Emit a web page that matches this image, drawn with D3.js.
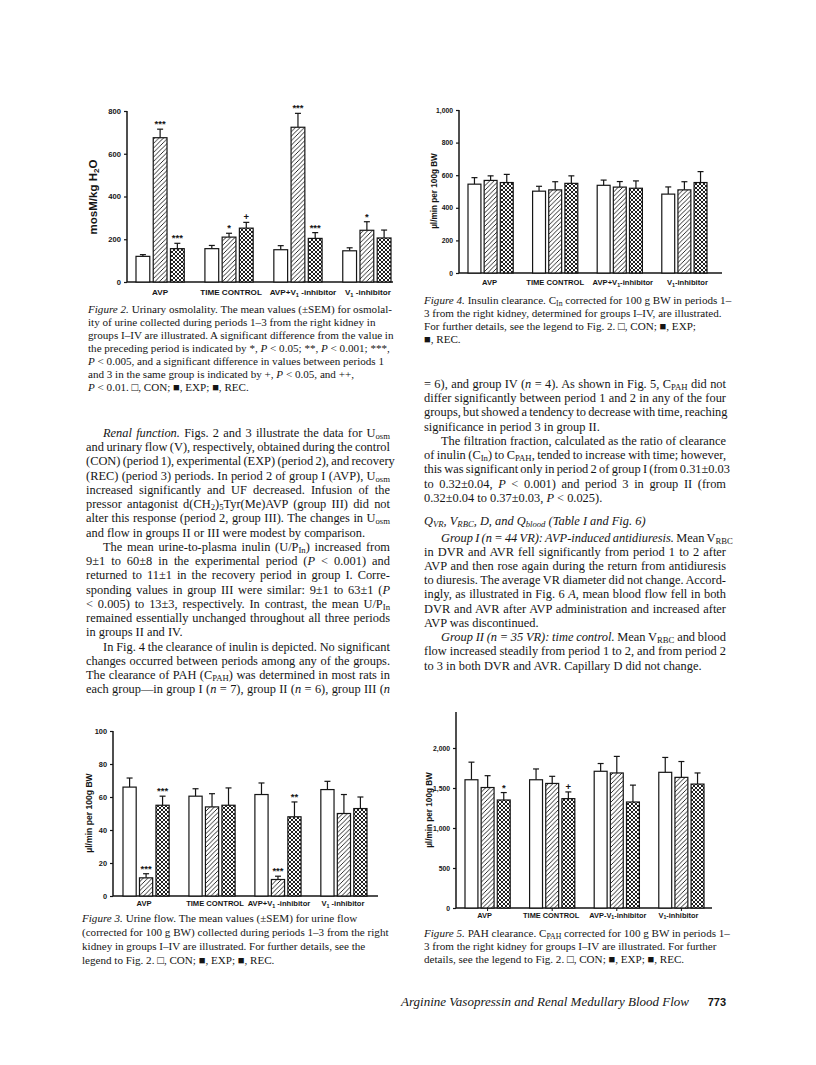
<!DOCTYPE html>
<html>
<head>
<meta charset="utf-8">
<script src="https://cdn.jsdelivr.net/npm/d3@7"></script>
<style>
  html, body { margin: 0; padding: 0; background: #fff; }
  svg { display: block; }
  .serif { font-family: "Liberation Serif", "Times New Roman", serif; fill: #151515; }
  .sans { font-family: "Liberation Sans", Arial, sans-serif; font-weight: bold; fill: #151515; }
</style>
</head>
<body>
<svg id="page" width="816" height="1065"></svg>
<script>
// ---- data ----
var periods = ["CON", "EXP", "REC"];
var groupLabels = ["AVP", "TIME CONTROL", "AVP+V_{1} -inhibitor", "V_{1} -inhibitor"];
var groupLabels4 = ["AVP", "TIME CONTROL", "AVP+V_{1}-inhibitor", "V_{1}-inhibitor"];
var groupLabels5 = ["AVP", "TIME CONTROL", "AVP-V_{1}-inhibitor", "V_{1}-inhibitor"];

// Figure 2: urinary osmolality (mosM/kg H2O)
var osmMean = [[120, 675, 156], [156, 210, 252], [151, 724, 204], [146, 242, 206]];
var osmSem = [[8, 40, 25], [15, 18, 27], [19, 65, 27], [14, 40, 37]];
var osmSig = [["", "***", "***"], ["", "*", "+"], ["", "***", "***"], ["", "*", ""]];
var osmTicks = [0, 200, 400, 600, 800];

// Figure 3: urine flow (ul/min per 100 g BW)
var flowMean = [[66, 11, 55], [60.5, 54, 55], [61.5, 10, 48], [64.5, 50, 53]];
var flowSem = [[5.5, 2.5, 5.5], [4.5, 8, 10.5], [7, 2, 9], [5, 11.5, 7]];
var flowSig = [["", "***", "***"], ["", "", ""], ["", "***", "**"], ["", "", ""]];
var flowTicks = [0, 20, 40, 60, 80, 100];

// Figure 4: inulin clearance
var cinMean = [[545, 568, 555], [502, 510, 550], [538, 527, 520], [484, 510, 555]];
var cinSem = [[40, 28, 50], [30, 50, 46], [32, 34, 45], [44, 50, 67]];
var cinSig = [["", "", ""], ["", "", ""], ["", "", ""], ["", "", ""]];
var cinTicks = [0, 200, 400, 600, 800, 1000];

// Figure 5: PAH clearance
var cpahMean = [[1603, 1506, 1350], [1603, 1557, 1367], [1709, 1688, 1325], [1696, 1633, 1549]];
var cpahSem = [[220, 148, 93], [135, 89, 84], [97, 207, 211], [186, 198, 139]];
var cpahSig = [["", "", "*"], ["", "", "+"], ["", "", ""], ["", "", ""]];
var cpahTicks = [0, 500, 1000, 1500, 2000];

// ---- text of the page ----
var cap2 = [
  "/{Figure 2.} Urinary osmolality. The mean values (±SEM) for osmolal-",
  "ity of urine collected during periods 1–3 from the right kidney in",
  "groups I–IV are illustrated. A significant difference from the value in",
  "the preceding period is indicated by *, /{P} < 0.05; **, /{P} < 0.001; ***,",
  "/{P} < 0.005, and a significant difference in values between periods 1",
  "and 3 in the same group is indicated by +, /{P} < 0.05, and ++,",
  "/{P} < 0.01. □, CON; ■, EXP; ■, REC."
];
var cap3 = [
  "/{Figure 3.} Urine flow. The mean values (±SEM) for urine flow",
  "(corrected for 100 g BW) collected during periods 1–3 from the right",
  "kidney in groups I–IV are illustrated. For further details, see the",
  "legend to Fig. 2. □, CON; ■, EXP; ■, REC."
];
var cap4 = [
  "/{Figure 4.} Insulin clearance. C_{In} corrected for 100 g BW in periods 1–",
  "3 from the right kidney, determined for groups I–IV, are illustrated.",
  "For further details, see the legend to Fig. 2. □, CON; ■, EXP;",
  "■, REC."
];
var cap5 = [
  "/{Figure 5.} PAH clearance. C_{PAH} corrected for 100 g BW in periods 1–",
  "3 from the right kidney for groups I–IV are illustrated. For further",
  "details, see the legend to Fig. 2. □, CON; ■, EXP; ■, REC."
];

// ">" = indented first line, "|" at end = last line of a paragraph (not justified)
var leftText = [
  ">/{Renal function.} Figs. 2 and 3 illustrate the data for U_{osm}",
  "and urinary flow (V), respectively, obtained during the control",
  "(CON) (period 1), experimental (EXP) (period 2), and recovery",
  "(REC) (period 3) periods. In period 2 of group I (AVP), U_{osm}",
  "increased significantly and UF decreased. Infusion of the",
  "pressor antagonist d(CH_{2})_{5}Tyr(Me)AVP (group III) did not",
  "alter this response (period 2, group III). The changes in U_{osm}",
  "and flow in groups II or III were modest by comparison.|",
  ">The mean urine-to-plasma inulin (U/P_{In}) increased from",
  "9±1 to 60±8 in the experimental period (/{P} < 0.001) and",
  "returned to 11±1 in the recovery period in group I. Corre-",
  "sponding values in group III were similar: 9±1 to 63±1 (/{P}",
  "< 0.005) to 13±3, respectively. In contrast, the mean U/P_{In}",
  "remained essentially unchanged throughout all three periods",
  "in groups II and IV.|",
  ">In Fig. 4 the clearance of inulin is depicted. No significant",
  "changes occurred between periods among any of the groups.",
  "The clearance of PAH (C_{PAH}) was determined in most rats in",
  "each group—in group I (/{n} = 7), group II (/{n} = 6), group III (/{n}"
];
var rightText1 = [
  "= 6), and group IV (/{n} = 4). As shown in Fig. 5, C_{PAH} did not",
  "differ significantly between period 1 and 2 in any of the four",
  "groups, but showed a tendency to decrease with time, reaching",
  "significance in period 3 in group II.|",
  ">The filtration fraction, calculated as the ratio of clearance",
  "of inulin (C_{In}) to C_{PAH}, tended to increase with time; however,",
  "this was significant only in period 2 of group I (from 0.31±0.03",
  "to 0.32±0.04, /{P} < 0.001) and period 3 in group II (from",
  "0.32±0.04 to 0.37±0.03, /{P} < 0.025).|"
];
var heading = "Q_{VR}, V_{RBC}, D, and Q_{blood} (Table I and Fig. 6)";
var rightText2 = [
  ">/{Group I (n = 44 VR): AVP-induced antidiuresis.} Mean V_{RBC}",
  "in DVR and AVR fell significantly from period 1 to 2 after",
  "AVP and then rose again during the return from antidiuresis",
  "to diuresis. The average VR diameter did not change. Accord-",
  "ingly, as illustrated in Fig. 6 /{A}, mean blood flow fell in both",
  "DVR and AVR after AVP administration and increased after",
  "AVP was discontinued.|",
  ">/{Group II (n = 35 VR): time control.} Mean V_{RBC} and blood",
  "flow increased steadily from period 1 to 2, and from period 2",
  "to 3 in both DVR and AVR. Capillary D did not change.|"
];

var svg = d3.select("#page");

// hatch patterns for EXP and REC bars
var defs = svg.append("defs");
var hatch = defs.append("pattern").attr("id", "hatch")
  .attr("patternUnits", "userSpaceOnUse").attr("width", 4.5).attr("height", 4.5);
hatch.append("rect").attr("width", 4.5).attr("height", 4.5).attr("fill", "#fff");
hatch.append("path").attr("d", "M-1,1 L1,-1 M0,4.5 L4.5,0 M3.5,5.5 L5.5,3.5")
  .attr("stroke", "#151515").attr("stroke-width", 0.9);
var cross = defs.append("pattern").attr("id", "cross")
  .attr("patternUnits", "userSpaceOnUse").attr("width", 4).attr("height", 4);
cross.append("rect").attr("width", 4).attr("height", 4).attr("fill", "#fff");
cross.append("path").attr("d", "M-1,-1 L5,5 M-1,5 L5,-1")
  .attr("stroke", "#151515").attr("stroke-width", 0.95);
var fills = ["#fff", "url(#hatch)", "url(#cross)"];

// write a string with _{sub} and /{italic} markup into a text element
function rich(sel, str, size) {
  str.split(/(_\{[^}]*\}|\/\{[^}]*\})/).forEach(function (p) {
    if (!p) return;
    if (p.indexOf("_{") === 0) {
      sel.append("tspan").attr("baseline-shift", -size * 0.2)
        .attr("font-size", size * 0.7).text(p.slice(2, -1));
    } else if (p.indexOf("/{") === 0) {
      sel.append("tspan").attr("font-style", "italic").text(p.slice(2, -1));
    } else {
      sel.append("tspan").text(p);
    }
  });
}

// justified paragraph lines
function block(lines, x0, x1, y0, step, size, indent) {
  lines.forEach(function (raw, i) {
    var ind = raw.charAt(0) === ">";
    var last = raw.charAt(raw.length - 1) === "|";
    var s = raw.replace(/^>/, "").replace(/\|$/, "");
    var x = x0 + (ind ? indent : 0);
    var t = svg.append("text").attr("class", "serif")
      .attr("x", x).attr("y", y0 + i * step).attr("font-size", size);
    rich(t, s, size);
    if (!last) {
      var natural = t.node().getComputedTextLength();
      var spaces = s.split(" ").length - 1;
      if (spaces > 0) t.attr("word-spacing", Math.max(-0.8, ((x1 - x) - natural) / spaces));
    }
  });
}

// ragged caption lines
function caption(lines, x, y0, step) {
  lines.forEach(function (s, i) {
    var t = svg.append("text").attr("class", "serif")
      .attr("x", x).attr("y", y0 + i * step).attr("font-size", 11.1);
    rich(t, s, 11.1);
  });
}

function drawChart(cfg) {
  var g = svg.append("g");
  var x0 = d3.scaleBand().domain(d3.range(cfg.mean.length))
    .range([cfg.bx0, cfg.bx1]).paddingInner(0.3);
  var x1 = d3.scaleBand().domain(d3.range(periods.length))
    .range([0, x0.bandwidth()]).paddingInner(0.2);
  var y = d3.scaleLinear().domain([0, cfg.max]).range([cfg.y0, cfg.y1]);

  // y axis
  var ga = g.append("g").attr("transform", "translate(" + cfg.ax + ",0)")
    .call(d3.axisLeft(y).tickValues(cfg.ticks).tickSize(3).tickPadding(3)
      .tickFormat(d3.format(",")));
  ga.select(".domain").remove();
  ga.selectAll(".tick line").attr("stroke", "#151515").attr("stroke-width", 1.2);
  ga.selectAll(".tick text").attr("class", "sans").attr("font-size", cfg.tickSize).attr("fill", "#151515");
  g.append("line").attr("x1", cfg.ax).attr("x2", cfg.ax)
    .attr("y1", y(0)).attr("y2", y(cfg.top))
    .attr("stroke", "#151515").attr("stroke-width", 1.5);
  g.append("line").attr("x1", cfg.ax).attr("x2", cfg.axEnd)
    .attr("y1", y(0)).attr("y2", y(0))
    .attr("stroke", "#151515").attr("stroke-width", 1.6);

  // bars, error bars, significance marks
  cfg.mean.forEach(function (row, i) {
    row.forEach(function (v, j) {
      var bx = x0(i) + x1(j), bw = x1.bandwidth(), cx = bx + bw / 2;
      var top = y(v + cfg.sem[i][j]);
      g.append("line").attr("x1", cx).attr("x2", cx).attr("y1", y(v)).attr("y2", top)
        .attr("stroke", "#151515").attr("stroke-width", 1.2);
      g.append("line").attr("x1", cx - 3).attr("x2", cx + 3).attr("y1", top).attr("y2", top)
        .attr("stroke", "#151515").attr("stroke-width", 1.2);
      g.append("rect").attr("x", bx).attr("y", y(v))
        .attr("width", bw).attr("height", y(0) - y(v))
        .attr("fill", fills[j]).attr("stroke", "#151515").attr("stroke-width", 1.2);
      if (cfg.sig[i][j]) {
        g.append("text").attr("class", "sans").attr("x", cx).attr("y", top - 2)
          .attr("text-anchor", "middle").attr("font-size", 9.5).text(cfg.sig[i][j]);
      }
    });
    if (cfg.xticks) {
      g.append("line").attr("x1", x0(i) + x0.bandwidth() / 2).attr("x2", x0(i) + x0.bandwidth() / 2)
        .attr("y1", y(0)).attr("y2", y(0) + 3).attr("stroke", "#151515").attr("stroke-width", 1);
    }
    var lt = g.append("text").attr("class", "sans").attr("font-size", cfg.labelSize)
      .attr("x", x0(i) + x0.bandwidth() / 2 + cfg.labelShift[i]).attr("y", cfg.labelY)
      .attr("text-anchor", "middle");
    rich(lt, cfg.labels[i], cfg.labelSize);
  });

  // y axis title
  var tt = g.append("text").attr("class", "sans")
    .attr("transform", "translate(" + cfg.tx + "," + cfg.ty + ") rotate(-90)")
    .attr("text-anchor", "middle").attr("font-size", cfg.tsize)
    .attr("font-weight", cfg.tweight);
  rich(tt, cfg.title, cfg.tsize);
}

drawChart({ mean: osmMean, sem: osmSem, sig: osmSig, ticks: osmTicks, labels: groupLabels,
  max: 800, top: 800, bx0: 136, bx1: 391, ax: 127, axEnd: 393, y0: 282, y1: 111,
  tickSize: 7.6, labelSize: 8.1, labelShift: [0, 2, 5, 1],
  labelY: 295, tx: 97, ty: 197, title: "mosM/kg H_{2}O", tsize: 11.5, tweight: "bold" });
drawChart({ mean: flowMean, sem: flowSem, sig: flowSig, ticks: flowTicks, labels: groupLabels,
  max: 100, top: 100, bx0: 123, bx1: 367, ax: 113, axEnd: 378, y0: 896, y1: 731,
  tickSize: 7.4, labelSize: 7.6, labelShift: [-2, 3, 1, -1],
  labelY: 906, tx: 92, ty: 813, title: "µl/min per 100g BW", tsize: 8.6, tweight: "normal" });
drawChart({ mean: cinMean, sem: cinSem, sig: cinSig, ticks: cinTicks, labels: groupLabels4,
  max: 1000, top: 1000, bx0: 468, bx1: 707, ax: 459, axEnd: 722, y0: 273, y1: 110,
  tickSize: 6.8, labelSize: 7.6, labelShift: [-1, 0, 3, 3],
  labelY: 285, tx: 437, ty: 191, title: "µl/min per 100g BW", tsize: 8.2, tweight: "normal" });
drawChart({ mean: cpahMean, sem: cpahSem, sig: cpahSig, ticks: cpahTicks, labels: groupLabels5,
  max: 2000, top: 2450, bx0: 465, bx1: 704, ax: 456, axEnd: 712, y0: 908, y1: 748,
  tickSize: 6.8, labelSize: 7.4, labelShift: [-3, -1, 1, -3],
  labelY: 918, tx: 432, ty: 810, title: "µl/min per 100g BW", tsize: 8.2, tweight: "normal",
  xticks: true });

// captions
caption(cap2, 88, 312.5, 13.1);
caption(cap3, 82, 922, 13.9);
caption(cap4, 424, 304, 12.9);
caption(cap5, 424, 937, 12.8);

// body text
block(leftText, 86, 390, 437, 14.24, 12.4, 17);
block(rightText1, 424, 726, 388, 14.24, 12.4, 17);
var h = svg.append("text").attr("class", "serif").attr("font-style", "italic")
  .attr("x", 424).attr("y", 525).attr("font-size", 12.4);
rich(h, heading, 12.4);
block(rightText2, 424, 726, 541.5, 14.24, 12.4, 17);

// running footer
svg.append("text").attr("class", "serif").attr("font-style", "italic")
  .attr("x", 689).attr("y", 1006).attr("font-size", 13).attr("text-anchor", "end")
  .text("Arginine Vasopressin and Renal Medullary Blood Flow");
svg.append("text").attr("class", "sans").attr("x", 726).attr("y", 1006)
  .attr("font-size", 11).attr("text-anchor", "end").text("773");
</script>
</body>
</html>
